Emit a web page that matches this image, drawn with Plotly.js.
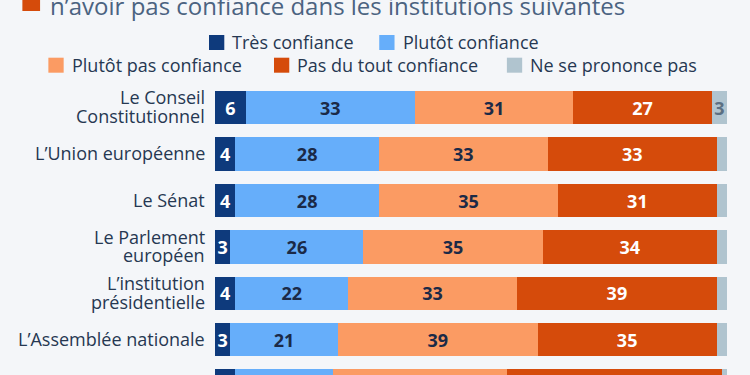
<!DOCTYPE html>
<html>
<head>
<meta charset="utf-8">
<script src="https://cdn.plot.ly/plotly-3.0.1.min.js"></script>
<style>
  html, body { margin: 0; padding: 0; background: #f4f6f9; }
  #chart { width: 750px; height: 375px; }
</style>
</head>
<body>
<div id="chart"></div>
<script>
// ---- Data ----
const titleText = "n’avoir pas confiance dans les institutions suivantes";
const categories = [
  "Le Conseil<br>Constitutionnel",
  "L’Union européenne",
  "Le Sénat",
  "Le Parlement<br>européen",
  "L’institution<br>présidentielle",
  "L’Assemblée nationale",
  "Le Gouvernement"
];
const seriesNames = ["Très confiance", "Plutôt confiance", "Plutôt pas confiance", "Pas du tout confiance", "Ne se prononce pas"];
const tresConfiance      = [6, 4, 4, 3, 4, 3, 4];
const plutotConfiance    = [33, 28, 28, 26, 22, 21, 19];
const plutotPasConfiance = [31, 33, 35, 35, 33, 39, 34];
const pasDuToutConfiance = [27, 33, 31, 34, 39, 35, 42];
const neSePrononcePas    = [3, 2, 2, 2, 2, 2, 1];

// ---- Styles ----
const colors = ["#0e3a7c", "#66aefa", "#fb9b63", "#d54b0b", "#b0c4cf"];
const textColors = ["#ffffff", "#1b2a47", "#1b2a47", "#ffffff", "#5b6f82"];
const FONT = "Open Sans";
const W = 750, H = 375;
const M = {l: 215, r: 22.8, t: 80, b: 0};
const PW = W - M.l - M.r, PH = H - M.t - M.b;
const px2x = p => (p - M.l) / PW;
const px2y = p => (H - M.b - p) / PH;
const lastVisibleRow = 5; // the last row is cut by the picture's bottom edge

const allSeries = [tresConfiance, plutotConfiance, plutotPasConfiance, pasDuToutConfiance, neSePrononcePas];

const traces = allSeries.map((vals, i) => ({
  type: "bar",
  orientation: "h",
  name: seriesNames[i],
  y: categories,
  x: vals,
  marker: {color: colors[i], line: {width: 0}},
  text: vals.map((v, r) => (v >= 3 && r <= lastVisibleRow ? String(v) : "")),
  texttemplate: "%{text}",
  textposition: "inside",
  insidetextanchor: "middle",
  textangle: 0,
  constraintext: "none",
  textfont: {family: FONT, size: 18, color: textColors[i], weight: 700},
  hoverinfo: "skip",
  showlegend: false
}));

const annotations = [];
const shapes = [];

// category labels
categories.forEach((c, r) => {
  if (r > lastVisibleRow) return;
  const lines = c.split("<br>");
  const n = lines.length;
  lines.forEach((ln, k) => {
    annotations.push({
      xref: "paper", yref: "y", x: 0, y: c,
      xanchor: "right", yanchor: "middle", xshift: -8,
      yshift: ((n - 1) / 2 - k) * 18.5 + 1,
      text: ln, showarrow: false,
      font: {family: FONT, size: 18, color: "#263852"}
    });
  });
});

// title (partially cut at top)
shapes.push({type: "rect", xref: "paper", yref: "paper",
  x0: px2x(22.3), x1: px2x(40), y0: px2y(11), y1: px2y(-7),
  fillcolor: "#d54b0b", line: {width: 0}});
annotations.push({xref: "paper", yref: "paper", x: px2x(48), y: px2y(5),
  xanchor: "left", yanchor: "middle", text: titleText, showarrow: false,
  font: {family: FONT, size: 24, color: "#4b6381"}});

// custom legend
const legendPos = [
  {x: 209, y: 42.5}, {x: 379.3, y: 42.5},
  {x: 48.3, y: 65.2}, {x: 274, y: 65.2}, {x: 507, y: 65.2}
];
legendPos.forEach((p, i) => {
  shapes.push({type: "rect", xref: "paper", yref: "paper",
    x0: px2x(p.x), x1: px2x(p.x + 15.3), y0: px2y(p.y + 7.5), y1: px2y(p.y - 7.5),
    fillcolor: colors[i], line: {width: 0}});
  annotations.push({xref: "paper", yref: "paper", x: px2x(p.x + 21.5), y: px2y(p.y),
    xanchor: "left", yanchor: "middle", text: seriesNames[i], showarrow: false,
    font: {family: FONT, size: 18, color: "#263852"}});
});

const layout = {
  width: W, height: H,
  margin: M,
  paper_bgcolor: "#f4f6f9",
  plot_bgcolor: "#f4f6f9",
  barmode: "stack",
  bargap: 0.282,
  showlegend: false,
  xaxis: {range: [0, 100], visible: false, fixedrange: true},
  yaxis: {type: "category", range: [5.76, -0.597], showticklabels: false,
          showgrid: false, zeroline: false, showline: false, ticks: "", fixedrange: true},
  annotations: annotations,
  shapes: shapes,
  font: {family: FONT}
};

Plotly.newPlot("chart", traces, layout, {displayModeBar: false, staticPlot: true});
</script>
</body>
</html>
